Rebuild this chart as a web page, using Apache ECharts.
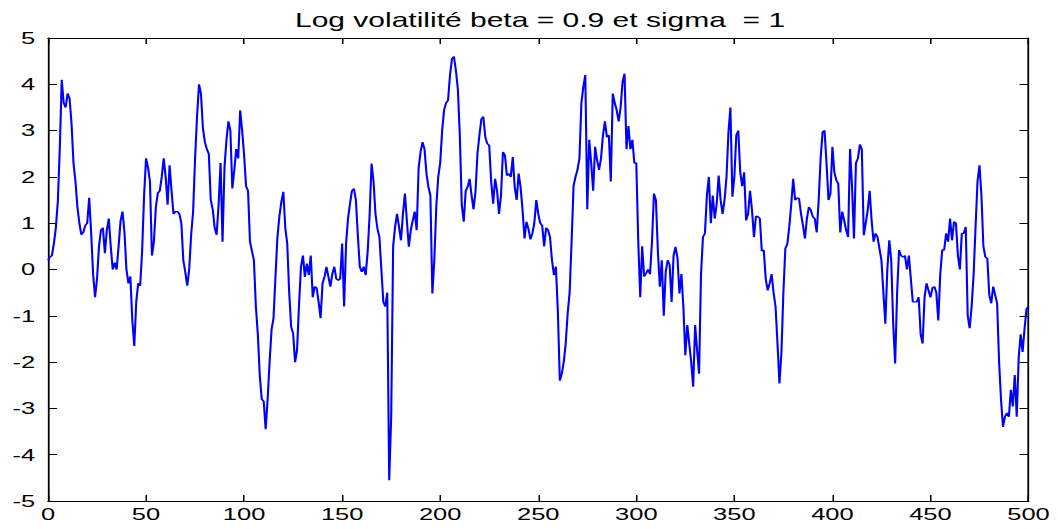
<!DOCTYPE html>
<html>
<head>
<meta charset="utf-8">
<script src="https://cdn.jsdelivr.net/npm/echarts@6/dist/echarts.min.js"></script>
<style>
  html, body { margin: 0; padding: 0; background: #ffffff; }
  #wrap { width: 1058px; height: 529px; overflow: hidden; background: #ffffff; }
  /* the figure is laid out narrow and widened horizontally, like the stretched original export */
  #chart { width: 705.33px; height: 529px; transform: scaleX(1.5); transform-origin: 0 0; }
</style>
</head>
<body>
<div id="wrap"><div id="chart"></div></div>
<script>
// Log-volatility path, beta = 0.9, sigma = 1 (t = 0 .. 500)
const vol000 = [
  0.2, 0.27, 0.3, 0.56, 0.9, 1.46, 2.6, 4.1, 3.6, 3.5,
  3.8, 3.7, 3.15, 2.3, 1.9, 1.35, 1.0, 0.75, 0.8, 0.95,
  1.0, 1.55, 0.8, -0.1, -0.6, -0.2, 0.5, 0.85, 0.9, 0.35,
  0.85, 1.1, 0.5, 0.0, 0.15, 0.0, 0.5, 1.05, 1.25, 0.8,
  0.0, -0.3, -0.15, -1.1, -1.65, -0.7, -0.3, -0.35, 0.4, 1.6
];
const vol050 = [
  2.4, 2.2, 1.9, 0.3, 0.6, 1.35, 1.65, 1.7, 2.0, 2.4,
  2.0, 1.4, 2.25, 1.7, 1.2, 1.25, 1.25, 1.2, 1.0, 0.2,
  -0.05, -0.35, 0.0, 0.75, 1.25, 2.4, 3.3, 4.0, 3.8, 3.05,
  2.75, 2.6, 2.5, 1.5, 1.3, 0.9, 0.75, 1.4, 2.3, 0.6,
  2.2, 2.8, 3.2, 3.0, 1.75, 2.15, 2.6, 2.4, 3.44, 3.0
];
const vol100 = [
  2.47, 1.8, 1.7, 0.6, 0.4, 0.2, -0.8, -1.4, -2.3, -2.8,
  -2.85, -3.45, -2.8, -2.0, -1.3, -1.05, -0.15, 0.7, 1.15, 1.46,
  1.68, 0.9, 0.56, -0.5, -1.24, -1.38, -2.0, -1.74, -0.77, 0.06,
  0.3, -0.16, 0.13, -0.12, 0.3, -0.6, -0.37, -0.4, -0.7, -1.05,
  -0.3, -0.16, 0.06, -0.16, -0.37, -0.09, 0.06, -0.2, -0.23, -0.2
];
const vol150 = [
  0.56, -0.8, 0.56, 1.1, 1.42, 1.7, 1.75, 1.5, 0.74, 0.06,
  -0.05, 0.06, -0.12, 0.38, 1.17, 2.29, 1.9, 1.2, 0.88, 0.7,
  0.0, -0.7, -0.8, -0.5, -4.55, -3.2, 0.5, 0.92, 1.2, 0.92,
  0.63, 1.2, 1.64, 1.06, 0.49, 0.85, 1.06, 1.25, 0.85, 2.2,
  2.54, 2.75, 2.6, 2.07, 1.78, 1.6, -0.52, 0.2, 1.35, 2.0
];
const vol200 = [
  2.3, 3.0, 3.45, 3.6, 3.65, 4.2, 4.55, 4.6, 4.3, 3.9,
  2.9, 1.4, 1.03, 1.7, 1.78, 1.96, 1.6, 1.3, 1.68, 2.5,
  2.9, 3.25, 3.3, 2.86, 2.72, 2.68, 1.9, 1.42, 1.96, 1.7,
  1.2, 1.6, 2.54, 2.47, 2.03, 2.07, 2.0, 2.43, 1.78, 1.5,
  2.07, 1.78, 1.28, 0.67, 1.03, 0.88, 0.65, 0.78, 1.0, 1.5
];
const vol250 = [
  1.2, 1.0, 0.95, 0.5, 0.9, 0.85, 0.7, 0.2, -0.12, 0.06,
  -0.9, -2.4, -2.25, -2.0, -1.6, -0.95, -0.5, 0.6, 1.8, 2.0,
  2.15, 2.4, 3.6, 3.95, 4.2, 1.3, 2.8, 2.3, 1.7, 2.65,
  2.36, 2.15, 2.4, 2.9, 3.2, 2.86, 2.9, 1.9, 3.8, 3.6,
  3.44, 3.2, 3.5, 4.05, 4.23, 2.6, 3.1, 2.6, 2.8, 2.3
];
const vol300 = [
  2.3, 0.6, -0.6, 0.5, -0.15, -0.08, 0.0, -0.1, 0.6, 1.64,
  1.5, 0.4, -0.37, 0.2, -1.0, -0.05, 0.2, 0.1, -0.7, 0.3,
  0.49, 0.25, -0.52, -0.1, -0.8, -1.85, -1.2, -1.6, -2.0, -2.53,
  -1.2, -1.74, -2.25, -0.1, 0.7, 0.78, 1.6, 2.0, 1.0, 1.6,
  1.1, 1.42, 2.03, 1.5, 1.2, 1.5, 2.0, 2.97, 3.5, 1.57
];
const vol350 = [
  2.0, 2.9, 3.0, 2.1, 1.8, 2.1, 1.06, 1.2, 1.7, 1.28,
  0.7, 1.15, 1.14, 1.1, 0.4, 0.42, -0.2, -0.45, -0.3, -0.1,
  -0.5, -0.8, -1.6, -2.46, -1.8, -0.5, 0.45, 0.55, 0.92, 1.4,
  1.96, 1.5, 1.55, 1.53, 1.2, 0.95, 0.67, 1.1, 1.35, 1.28,
  1.14, 1.1, 0.8, 1.5, 2.4, 2.97, 3.0, 2.3, 1.5, 1.64
];
const vol400 = [
  2.65, 2.1, 1.93, 1.85, 0.8, 1.25, 1.06, 0.85, 0.7, 2.6,
  1.8, 0.67, 2.3, 2.4, 2.7, 2.6, 0.74, 1.0, 1.28, 1.7,
  1.06, 0.6, 0.78, 0.7, 0.45, 0.2, -0.5, -1.17, 0.0, 0.63,
  0.2, -1.17, -2.03, -0.5, 0.42, 0.3, 0.27, 0.3, 0.0, 0.3,
  -0.2, -0.7, -0.7, -0.7, -0.6, -1.4, -1.6, -0.6, -0.3, -0.45
];
const vol450 = [
  -0.6, -0.4, -0.37, -0.5, -1.1, -0.1, 0.42, 0.42, 0.78, 0.6,
  1.1, 0.63, 1.03, 1.0, 0.3, 0.0, 0.78, 0.78, 0.92, -1.0,
  -1.27, -0.8, -0.12, 0.92, 1.9, 2.25, 1.6, 0.5, 0.27, 0.24,
  -0.55, -0.73, -0.37, -0.55, -0.73, -2.0, -2.82, -3.4, -3.18, -3.1,
  -3.18, -2.6, -2.96, -2.28, -3.18, -1.9, -1.4, -1.78, -1.27, -0.85, -0.8
];

const xTicks = [0, 50, 100, 150, 200, 250, 300, 350, 400, 450, 500];
const yTicks = [-5, -4, -3, -2, -1, 0, 1, 2, 3, 4, 5];
const titleText = 'Log volatilité beta = 0.9 et sigma  = 1';

const logVol = [].concat(vol000, vol050, vol100, vol150, vol200,
                         vol250, vol300, vol350, vol400, vol450);
const points = logVol.map((v, t) => [t, v]);

const FONT = '"Liberation Sans", Arial, Helvetica, sans-serif';
const SX = 1.5;           // horizontal widening applied by CSS
const PLOT_L = 48, PLOT_R = 1029, PLOT_T = 38, PLOT_B = 501;
const W = 1058 / SX;

const frameAxis = (extra) => Object.assign({
  axisLine: { show: true, onZero: false, lineStyle: { color: '#000', width: 1.2 } },
  axisTick: { show: true, inside: true, length: 6, lineStyle: { color: '#000', width: 1 } },
  splitLine: { show: false }
}, extra);

const chart = echarts.init(document.getElementById('chart'), null, { renderer: 'svg' });
chart.setOption({
  animation: false,
  backgroundColor: '#ffffff',
  title: {
    text: titleText,
    left: ((PLOT_L + PLOT_R) / 2) / SX - 4,
    textAlign: 'center',
    top: 5,
    textStyle: { fontFamily: FONT, fontSize: 20, fontWeight: 'normal', color: '#000' }
  },
  grid: {
    left: PLOT_L / SX,
    right: W - PLOT_R / SX,
    top: PLOT_T,
    bottom: 529 - PLOT_B,
    containLabel: false
  },
  xAxis: [
    frameAxis({
      type: 'value', position: 'bottom', min: xTicks[0], max: xTicks[xTicks.length - 1],
      interval: 50,
      axisLabel: { show: true, color: '#000', fontFamily: FONT, fontSize: 17, margin: 5,
                   formatter: v => xTicks.includes(v) ? String(v) : '' }
    }),
    frameAxis({
      type: 'value', position: 'top', min: xTicks[0], max: xTicks[xTicks.length - 1],
      interval: 50, axisLabel: { show: false }
    })
  ],
  yAxis: [
    frameAxis({
      type: 'value', position: 'left', min: yTicks[0], max: yTicks[yTicks.length - 1],
      interval: 1,
      axisLabel: { show: true, color: '#000', fontFamily: FONT, fontSize: 17, margin: 8.5,
                   formatter: v => yTicks.includes(v) ? String(v) : '' }
    }),
    frameAxis({
      type: 'value', position: 'right', min: yTicks[0], max: yTicks[yTicks.length - 1],
      interval: 1, axisLabel: { show: false }
    })
  ],
  series: [{
    type: 'line',
    data: points,
    xAxisIndex: 0,
    yAxisIndex: 0,
    showSymbol: false,
    symbol: 'none',
    lineStyle: { color: '#0000ff', width: 1.4 },
    silent: true
  }]
});
</script>
</body>
</html>
